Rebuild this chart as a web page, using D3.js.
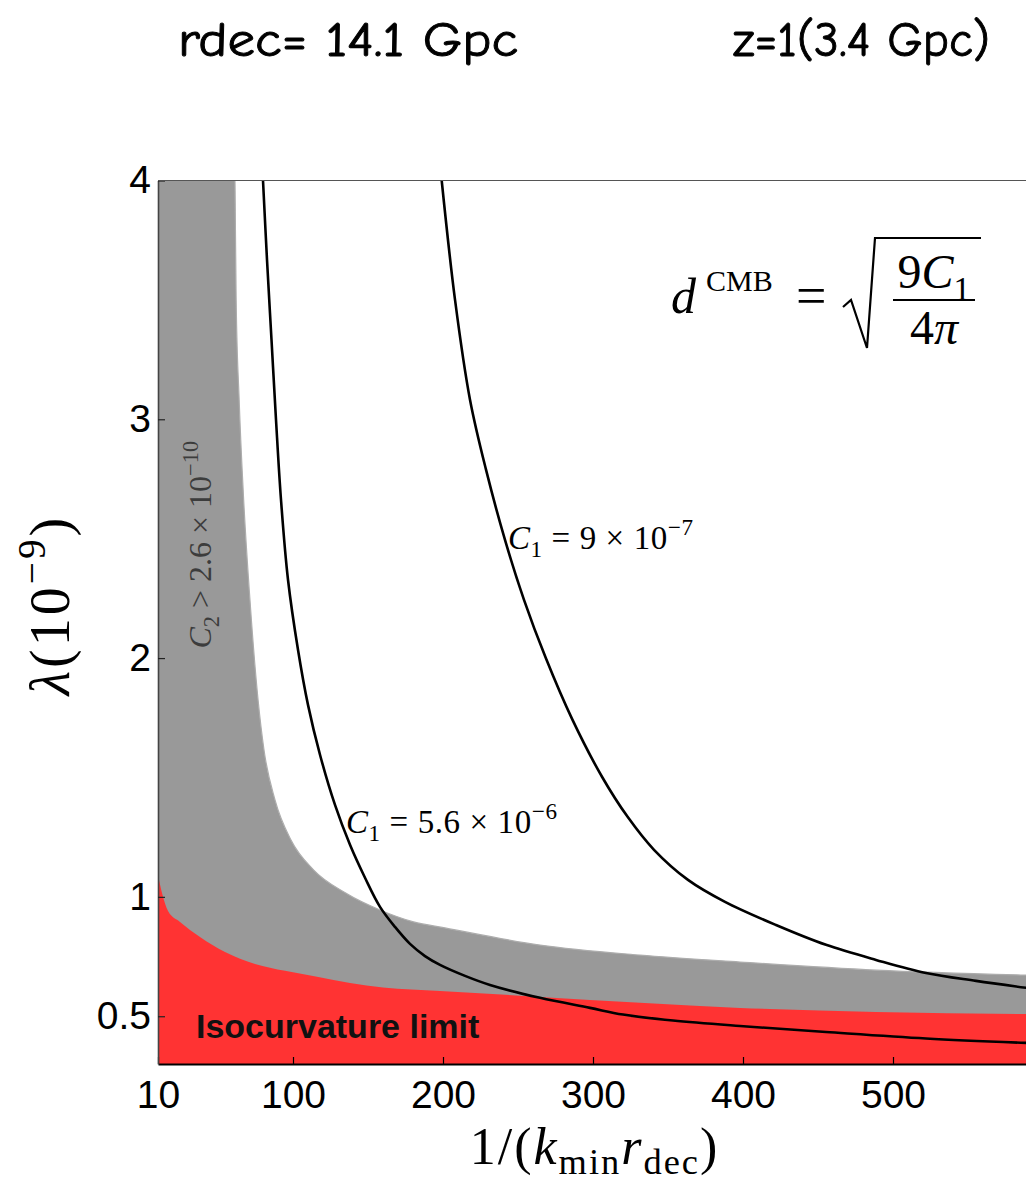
<!DOCTYPE html>
<html>
<head>
<meta charset="utf-8">
<script src="https://cdn.jsdelivr.net/npm/d3@7"></script>
<style>
  body { margin: 0; background: #fff; }
  svg { display: block; }
</style>
</head>
<body>
<svg id="chart" width="1026" height="1182"></svg>
<script>
// ---- data -------------------------------------------------------------
// x: 1/(k_min r_dec), y: lambda in units of 1e-9

// upper edge of the region excluded by the quadrupole bound C2 > 2.6e-10 (grey)
const greyX      = [10, 61.3, 62.1, 64.1, 67.1, 71.3, 76.7, 80.67, 88, 98.67, 113.67, 135.13, 158, 180.4, 201.33, 264.7, 331.3, 398, 488.7, 590];
const greyLambda = [4.0, 4.0, 3.50, 3.082, 2.663, 2.244, 1.825, 1.615, 1.406, 1.238, 1.113, 1.016, 0.945, 0.895, 0.870, 0.798, 0.756, 0.727, 0.693, 0.672];

// upper edge of the isocurvature limit (red)
const isoX      = [10, 12.67, 16.67, 24.67, 38, 54.67, 74.67, 94.67, 116, 138, 160, 198, 264.67, 331.33, 398, 488.67, 590];
const isoLambda = [1.092, 1.016, 0.941, 0.895, 0.832, 0.769, 0.719, 0.690, 0.665, 0.639, 0.620, 0.606, 0.581, 0.556, 0.535, 0.518, 0.509];

// dipole contour C1 = 5.6e-6
const c1HighX      = [80, 82.67, 85.67, 88.67, 92, 96.67, 103.33, 110, 118, 128, 138, 148, 158, 168, 178, 188, 198, 214.67, 231.33, 264.67, 298, 320, 353.33, 398, 455.33, 522, 590];
const c1HighLambda = [4.0, 3.668, 3.333, 2.998, 2.663, 2.328, 2.035, 1.804, 1.595, 1.385, 1.218, 1.080, 0.958, 0.874, 0.803, 0.752, 0.715, 0.669, 0.631, 0.577, 0.535, 0.507, 0.482, 0.459, 0.434, 0.407, 0.388];

// dipole contour C1 = 9e-7
const c1LowX      = [199.13, 208, 218, 228.67, 241.33, 254, 268.47, 286.27, 306, 323.07, 340.67, 363.33, 388, 422, 455.33, 488.67, 522, 555.33, 590];
const c1LowLambda = [4.0, 3.501, 3.082, 2.789, 2.495, 2.244, 2.001, 1.742, 1.503, 1.335, 1.197, 1.071, 0.979, 0.882, 0.799, 0.736, 0.681, 0.648, 0.618];

// axes
const xTicks = [10, 100, 200, 300, 400, 500];
const yTicks = [0.5, 1, 2, 3, 4];
const xDomain = [10, 600];
const yDomain = [0.3, 4];

// ---- layout -----------------------------------------------------------
const plot = { left: 158, right: 1043, top: 180.5, bottom: 1064 };
const serif = "'Liberation Serif', 'Times New Roman', serif";
const sans = "'Liberation Sans', Arial, Helvetica, sans-serif";
const comic = "'Comic Sans MS', 'Comic Neue', Lato, sans-serif";

const svg = d3.select('#chart');

const x = d3.scaleLinear().domain(xDomain).range([plot.left, plot.right]);
const y = d3.scaleLinear().domain(yDomain).range([plot.bottom, plot.top]);

svg.append('defs').append('clipPath').attr('id', 'plotClip')
  .append('rect')
  .attr('x', plot.left).attr('y', plot.top)
  .attr('width', plot.right - plot.left).attr('height', plot.bottom - plot.top);

const body = svg.append('g').attr('clip-path', 'url(#plotClip)');

const area = d3.area()
  .x(d => x(d[0]))
  .y0(y(yDomain[0]))
  .y1(d => y(d[1]))
  .curve(d3.curveMonotoneX);

const edge = d3.line()
  .x(d => x(d[0]))
  .y(d => y(d[1]))
  .curve(d3.curveMonotoneX);

const smooth = d3.line()
  .x(d => x(d[0]))
  .y(d => y(d[1]))
  .curve(d3.curveCatmullRom.alpha(0.5));

// excluded regions
const greyPts = d3.zip(greyX, greyLambda);
body.append('path')
  .datum(greyPts)
  .attr('d', area)
  .attr('fill', '#999999');
body.append('path')
  .datum(greyPts.slice(1))
  .attr('d', edge)
  .attr('fill', 'none')
  .attr('stroke', '#adadad')
  .attr('stroke-width', 1.2);

body.append('path')
  .datum(d3.zip(isoX, isoLambda))
  .attr('d', area)
  .attr('fill', '#ff3333');

// C1 contours
[[c1HighX, c1HighLambda], [c1LowX, c1LowLambda]].forEach(([xs, ls]) => {
  body.append('path')
    .datum(d3.zip(xs, ls))
    .attr('d', smooth)
    .attr('fill', 'none')
    .attr('stroke', '#000')
    .attr('stroke-width', 2.6)
    .attr('stroke-linejoin', 'round');
});

// ---- axes -------------------------------------------------------------
const xAxis = svg.append('g')
  .attr('transform', `translate(0,${plot.bottom})`)
  .call(d3.axisBottom(x).tickValues(xTicks).tickSizeInner(-7).tickSizeOuter(0).tickPadding(16));
xAxis.select('.domain').attr('stroke', '#000').attr('stroke-width', 2);
xAxis.selectAll('.tick line').attr('stroke', '#000').attr('stroke-width', 1.2);
xAxis.selectAll('.tick text')
  .style('font-family', sans).style('font-size', '39px').attr('fill', '#000');

const yAxis = svg.append('g')
  .attr('transform', `translate(${plot.left},0)`)
  .call(d3.axisLeft(y).tickValues(yTicks).tickFormat(d3.format('~g')).tickSizeInner(-7).tickSizeOuter(0).tickPadding(7));
yAxis.select('.domain').attr('stroke', '#444').attr('stroke-width', 1.6);
yAxis.selectAll('.tick line').attr('stroke', '#222').attr('stroke-width', 1.2);
yAxis.selectAll('.tick text')
  .style('font-family', sans).style('font-size', '39px').attr('fill', '#000');

// top frame
svg.append('line')
  .attr('x1', plot.left).attr('x2', plot.right)
  .attr('y1', plot.top).attr('y2', plot.top)
  .attr('stroke', '#555').attr('stroke-width', 1.2);

// ---- math text helper -------------------------------------------------
// parts: {t, it, sub, sup}; sub/superscripts at 70% size
function mathText(sel, parts, fs, subShift = 0.24) {
  let shift = 0;
  parts.forEach(p => {
    const target = p.sub ? subShift * fs : p.sup ? -0.42 * fs : 0;
    sel.append('tspan')
      .text(p.t)
      .attr('dy', target - shift)
      .style('font-size', ((p.sub || p.sup) ? 0.7 * fs : fs) + 'px')
      .style('font-style', p.it ? 'italic' : 'normal');
    shift = target;
  });
  return sel;
}

// axis titles
const yTitle = svg.append('text')
  .attr('transform', 'translate(69,605) rotate(-90)')
  .attr('text-anchor', 'middle')
  .style('font-family', serif).style('letter-spacing', '3px').attr('fill', '#000');
mathText(yTitle, [
  { t: 'λ', it: true }, { t: '(10' }, { t: '−9', sup: true }, { t: ')' }
], 56);

const xTitle = svg.append('text')
  .attr('x', x(301)).attr('y', 1164)
  .attr('text-anchor', 'middle')
  .style('font-family', serif).style('letter-spacing', '2px').attr('fill', '#000');
mathText(xTitle, [
  { t: '1/(' }, { t: 'k', it: true }, { t: 'min', sub: true },
  { t: 'r', it: true }, { t: 'dec', sub: true }, { t: ')' }
], 52, 0.2);

// contour labels
const labC1Low = svg.append('text')
  .attr('x', x(243.3)).attr('y', y(2.457))
  .style('font-family', serif).style('letter-spacing', '0.6px').attr('fill', '#000');
mathText(labC1Low, [
  { t: 'C', it: true }, { t: '1', sub: true }, { t: ' = 9 × 10' }, { t: '−7', sup: true }
], 33);

const labC1High = svg.append('text')
  .attr('x', x(135.3)).attr('y', y(1.268))
  .style('font-family', serif).style('letter-spacing', '0.6px').attr('fill', '#000');
mathText(labC1High, [
  { t: 'C', it: true }, { t: '1', sub: true }, { t: ' = 5.6 × 10' }, { t: '−6', sup: true }
], 33);

const labC2 = svg.append('text')
  .attr('transform', `translate(${x(45.3)},${y(2.04)}) rotate(-90)`)
  .style('font-family', serif).attr('fill', '#3c3c3c');
mathText(labC2, [
  { t: 'C', it: true }, { t: '2', sub: true }, { t: ' > 2.6 × 10' }, { t: '−10', sup: true }
], 32);

svg.append('text')
  .attr('x', x(35.3)).attr('y', y(0.409))
  .text('Isocurvature limit')
  .style('font-family', sans).style('font-weight', 'bold').style('font-size', '34px')
  .attr('fill', '#111');

// ---- dipole formula: d^CMB = sqrt(9 C1 / 4 pi) ------------------------
const fm = svg.append('g').style('font-family', serif).attr('fill', '#000');
fm.append('text').attr('x', 671).attr('y', 313)
  .style('font-size', '50px').style('font-style', 'italic').text('d');
fm.append('text').attr('x', 706).attr('y', 291)
  .style('font-size', '30px').text('CMB');
fm.append('text').attr('x', 796).attr('y', 314)
  .style('font-size', '54px').text('=');
fm.append('path')
  .attr('d', 'M843,307 L851,300 L867,348 L875,238 L981,238')
  .attr('fill', 'none').attr('stroke', '#000').attr('stroke-width', 2.2)
  .attr('stroke-linejoin', 'miter');
const num = fm.append('text').attr('x', 934).attr('y', 288).attr('text-anchor', 'middle');
mathText(num, [{ t: '9' }, { t: 'C', it: true }, { t: '1', sub: true }], 48);
fm.append('line').attr('x1', 893).attr('x2', 975).attr('y1', 300).attr('y2', 300)
  .attr('stroke', '#000').attr('stroke-width', 2);
const den = fm.append('text').attr('x', 934).attr('y', 344).attr('text-anchor', 'middle');
mathText(den, [{ t: '4' }, { t: 'π', it: true }], 48);

// ---- header -----------------------------------------------------------
[['rdec= 14.1 Gpc', 178, 340], ['z=1(3.4 Gpc)', 733, 257]].forEach(([t, x0, len]) => {
  svg.append('text')
    .attr('x', x0).attr('y', 56)
    .attr('textLength', len).attr('lengthAdjust', 'spacingAndGlyphs')
    .style('font-family', comic).style('font-size', '48px')
    .attr('fill', '#000').attr('stroke', '#000').attr('stroke-width', 0.9)
    .text(t);
});
</script>
</body>
</html>
